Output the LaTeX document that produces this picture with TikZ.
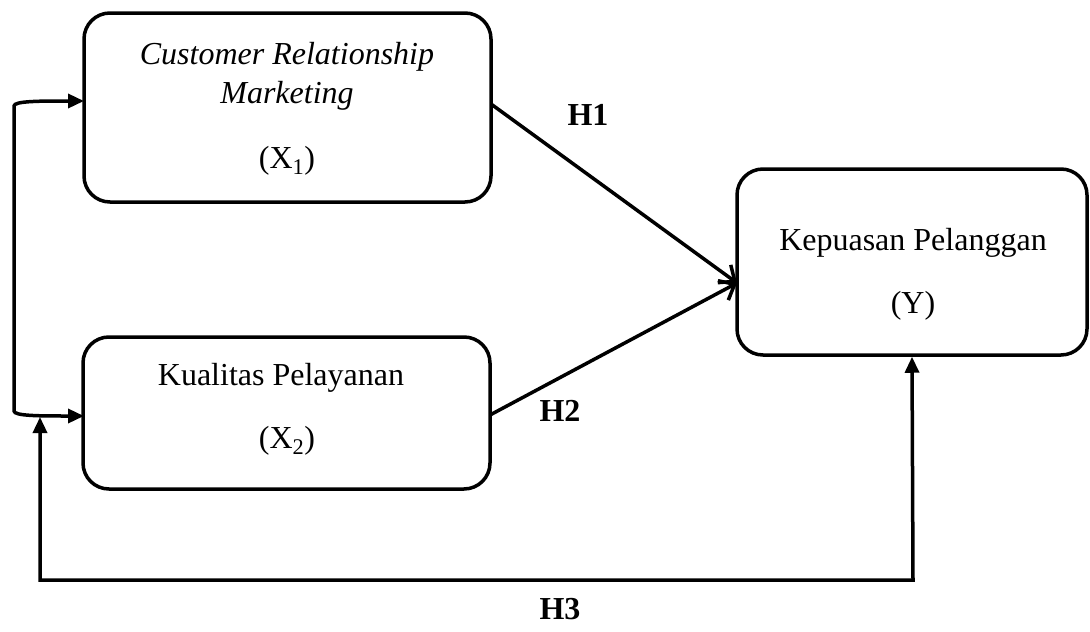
\documentclass[tikz,border=0pt]{standalone}
\usepackage{fontspec}
\setmainfont{Liberation Serif}
\usetikzlibrary{arrows.meta,calc}
\begin{document}
\begin{tikzpicture}[x=1pt,y=-1pt,
  box/.style={draw,line width=3.5pt,rounded corners=26pt,inner sep=0pt},
  txt/.style={font=\fontsize{32}{36}\selectfont,inner sep=0pt,anchor=base},
  hlab/.style={font=\fontsize{32}{36}\selectfont\bfseries,inner sep=0pt,anchor=base},
  conn/.style={line width=3.5pt},
  tip/.tip={Triangle[length=16pt,width=14pt]},
  barb/.style={-{Straight Barb[length=13pt,width=22pt,line width=3.5pt]}}]
\useasboundingbox (0,0) rectangle (1090,632);
\node[box,minimum width=407pt,minimum height=189pt] (x1) at (287.5,107.5) {};
\node[box,minimum width=407pt,minimum height=152pt] (x2) at (286.5,413) {};
\node[box,minimum width=350pt,minimum height=186pt] (y) at (912,262) {};
\node[txt] (t1a) at (287,64) {\itshape Customer Relationship};
\node[txt] (t1b) at (287,103) {\itshape Marketing};
\node[txt] (t1c) at (287,168) {(X\textsubscript{1})};
\node[txt] (t2a) at (281,385) {Kualitas Pelayanan};
\node[txt] (t2b) at (287,448) {(X\textsubscript{2})};
\node[txt] (t3a) at (913,250) {Kepuasan Pelanggan};
\node[txt] (t3b) at (913,313) {(Y)};
\node[hlab] (h1) at (588,125) {H1};
\node[hlab] (h2) at (560,421) {H2};
\node[hlab] (h3) at (560,619) {H3};
\coordinate (p1) at (491,104);
\coordinate (p2) at (490,415);
\coordinate (q) at (737,283);
\draw[conn,barb] (p1) -- (q);
\draw[conn,barb] (p2) -- (q);
\coordinate (a1) at (84,101);
\coordinate (a2) at (84,416);
\coordinate (c1) at (14,106);
\coordinate (c2) at (14,411);
\draw[conn,{tip}-{tip}] (a1) .. controls (40,101) and (14,101) .. (c1) -- (c2) .. controls (14,416) and (40,416) .. (a2);
\coordinate (b1) at (913,580);
\coordinate (b2) at (40,580);
\coordinate (b3) at (40,417);
\draw[conn,{tip}-{tip}] (b3) -- (b2) -- (b1) -- (y.south);
\end{tikzpicture}
\end{document}
